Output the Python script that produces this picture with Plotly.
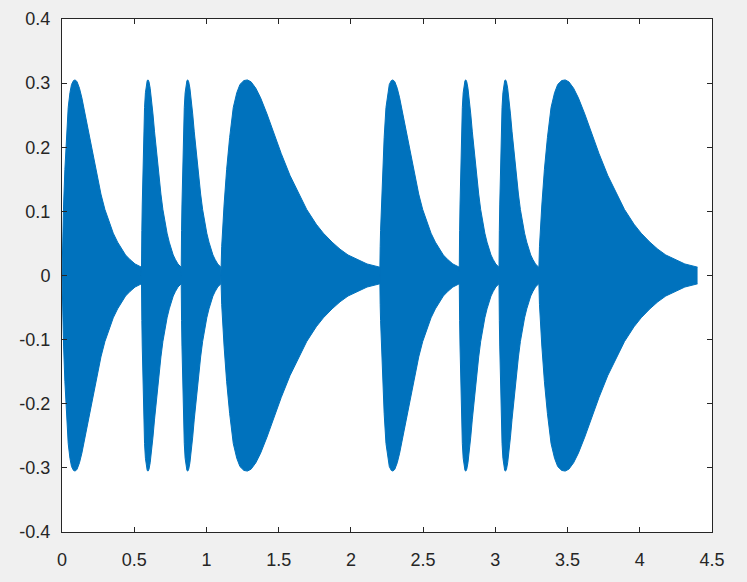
import plotly.graph_objects as go

# Note timing (seconds)
note_start = [0.0, 0.55, 0.825, 1.1, 2.2, 2.75, 3.025, 3.3]
note_dur = [0.55, 0.275, 0.275, 1.1, 0.55, 0.275, 0.275, 1.1]

# Envelope shape: fraction of the note duration -> amplitude
env_frac = [0.0, 0.005, 0.01, 0.02, 0.036, 0.055, 0.078, 0.10, 0.12, 0.145, 0.167,
            0.19, 0.22, 0.25, 0.29, 0.33, 0.38, 0.435, 0.49, 0.54, 0.60, 0.645,
            0.70, 0.75, 0.80, 0.855, 0.92, 1.0]
env_amp = [0.0, 0.045, 0.07, 0.11, 0.165, 0.215, 0.262, 0.285, 0.298, 0.304, 0.305,
           0.302, 0.292, 0.277, 0.252, 0.224, 0.19, 0.156, 0.127, 0.103, 0.080, 0.066,
           0.052, 0.041, 0.032, 0.025, 0.018, 0.013]

x_ticks = [0, 0.5, 1, 1.5, 2, 2.5, 3, 3.5, 4, 4.5]
x_labels = ["0", "0.5", "1", "1.5", "2", "2.5", "3", "3.5", "4", "4.5"]
y_ticks = [-0.4, -0.3, -0.2, -0.1, 0, 0.1, 0.2, 0.3, 0.4]
y_labels = ["-0.4", "-0.3", "-0.2", "-0.1", "0", "0.1", "0.2", "0.3", "0.4"]

xs, up, lo = [], [], []
for s, d in zip(note_start, note_dur):
    for f, a in zip(env_frac, env_amp):
        xs.append(s + f * d)
        up.append(a)
        lo.append(-a)

blue = "#0072BD"
fig = go.Figure()
fig.add_trace(go.Scatter(x=xs, y=lo, mode="lines", line=dict(color=blue, width=1),
                         hoverinfo="skip", showlegend=False))
fig.add_trace(go.Scatter(x=xs, y=up, mode="lines", line=dict(color=blue, width=1),
                         fill="tonexty", fillcolor=blue, showlegend=False))

axis_common = dict(showline=True, linecolor="#262626", linewidth=1, mirror="allticks",
                   ticks="inside", ticklen=5, tickcolor="#262626", showgrid=False,
                   zeroline=False, automargin=False,
                   tickfont=dict(family="Liberation Sans, Arial", size=18, color="#262626"))
fig.update_xaxes(range=[0, 4.5], tickvals=x_ticks, ticktext=x_labels,
                 ticklabelstandoff=11, **axis_common)
fig.update_yaxes(range=[-0.4, 0.4], tickvals=y_ticks, ticktext=y_labels,
                 ticklabelstandoff=7, **axis_common)
fig.update_layout(width=747, height=582, paper_bgcolor="#f0f0f0", plot_bgcolor="white",
                  margin=dict(l=62, r=35, t=19, b=50, autoexpand=False))
fig.write_html("out.html", config={"displayModeBar": False},
               post_script="document.body.style.margin='0';document.body.style.background='#f0f0f0';")
